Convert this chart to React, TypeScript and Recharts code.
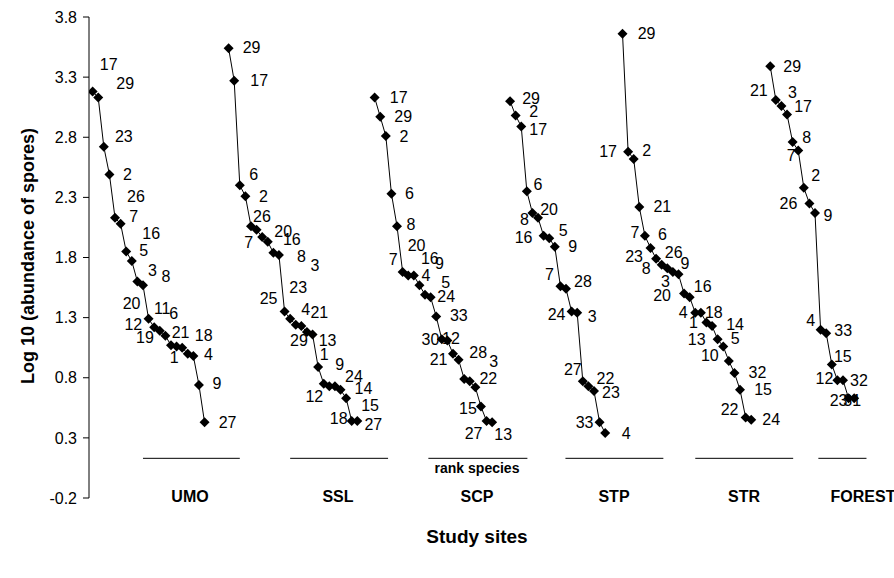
import React from "react";
import { LineChart, Line, XAxis, YAxis, ReferenceLine } from "recharts";

const FONT = '"Liberation Sans", Arial, Helvetica, sans-serif';

// species rank order and log10 abundance per study site
const umoSpecies = ["17", "29", "23", "2", "26", "7", "16", "5", "3", "8", "20", "11", "6", "12", "19", "21", "1", "18", "4", "9", "27"];
const umoLog = [3.18, 3.13, 2.72, 2.49, 2.13, 2.08, 1.85, 1.77, 1.6, 1.57, 1.29, 1.22, 1.19, 1.15, 1.07, 1.06, 1.05, 1.0, 0.98, 0.74, 0.43];

const sslSpecies = ["29", "17", "6", "2", "26", "7", "20", "16", "8", "3", "25", "23", "4", "21", "29", "13", "1", "9", "12", "24", "14", "15", "18", "27"];
const sslLog = [3.54, 3.27, 2.4, 2.31, 2.06, 2.03, 1.97, 1.93, 1.84, 1.82, 1.35, 1.29, 1.24, 1.23, 1.18, 1.16, 0.89, 0.75, 0.73, 0.73, 0.7, 0.63, 0.44, 0.44];

const scpSpecies = ["17", "29", "2", "6", "8", "20", "7", "16", "9", "4", "5", "24", "33", "30", "12", "21", "28", "3", "22", "15", "27", "13"];
const scpLog = [3.13, 2.97, 2.81, 2.33, 2.06, 1.68, 1.65, 1.65, 1.57, 1.49, 1.47, 1.31, 1.12, 1.11, 1.0, 0.95, 0.79, 0.77, 0.72, 0.56, 0.44, 0.43];

const stpSpecies = ["29", "2", "17", "6", "8", "20", "16", "5", "9", "7", "28", "24", "3", "27", "22", "23", "33", "4"];
const stpLog = [3.1, 2.98, 2.89, 2.35, 2.17, 2.13, 1.98, 1.96, 1.89, 1.56, 1.54, 1.35, 1.34, 0.77, 0.73, 0.69, 0.43, 0.34];

const strSpecies = ["29", "17", "2", "21", "7", "6", "23", "26", "8", "9", "3", "20", "16", "4", "18", "1", "14", "13", "5", "10", "32", "15", "22", "24"];
const strLog = [3.66, 2.68, 2.62, 2.22, 1.98, 1.88, 1.79, 1.74, 1.71, 1.68, 1.66, 1.5, 1.47, 1.34, 1.34, 1.26, 1.23, 1.12, 1.06, 0.94, 0.84, 0.7, 0.47, 0.45];

const forestSpecies = ["29", "21", "3", "17", "8", "7", "2", "26", "9", "4", "33", "15", "12", "32", "23", "31"];
const forestLog = [3.39, 3.11, 3.06, 2.99, 2.76, 2.69, 2.38, 2.25, 2.17, 1.2, 1.17, 0.91, 0.78, 0.78, 0.63, 0.63];

const siteNames = ["UMO", "SSL", "SCP", "STP", "STR", "FOREST"];
const yTicks = [-0.2, 0.3, 0.8, 1.3, 1.8, 2.3, 2.8, 3.3, 3.8];

// layout: first rank slot of each site on the shared x axis
const siteStart = [0, 24.3, 50.4, 74.6, 94.7, 121.1];

// layout: label offsets (dx, dy in px) from each marker, as placed in the original
const umoLabelPos = [[16, -27], [27, -14], [20, -10], [18, 0], [21, -21], [13, -7], [25, -18], [12, -11], [15, -11], [23, -9], [-17, -15], [8, -19], [14, -17], [-32, -11], [-26, -8], [4, -14], [-8, 10], [16, -18], [15, -2], [18, -1], [23, 0]];
const sslLabelPos = [[23, -1], [25, 0], [14, -11], [18, 0], [11, -10], [-8, 13], [21, -6], [24, -2], [28, 4], [36, 10], [-16, -13], [8, -31], [10, -15], [18, -14], [-8, 8], [15, 6], [6, -12], [16, -19], [-15, 10], [19, -10], [23, -1], [24, 7], [-13, -3], [16, 3]];
const scpLabelPos = [[24, 0], [23, 0], [18, 0], [18, 0], [14, -2], [14, -26], [-15, -16], [16, -17], [20, -22], [1, -19], [15, -15], [10, -20], [17, -24], [-17, -1], [-2, -15], [-20, 0], [14, -26], [24, -20], [13, -9], [-13, 2], [-13, 12], [11, 12]];
const stpLabelPos = [[21, -3], [18, -4], [17, 3], [11, -7], [-8, 6], [11, -8], [-20, 2], [14, -8], [18, 0], [-11, -12], [17, -7], [-15, 3], [15, 4], [-10, -12], [17, -8], [17, 2], [-15, 0], [21, 0]];
const strLabelPos = [[24, 0], [-20, 0], [13, -8], [23, 0], [-10, -3], [12, -13], [-22, -2], [12, -12], [-21, 0], [12, -8], [-13, 7], [-22, 2], [13, -11], [-12, 0], [13, 0], [-13, 0], [23, -2], [-21, 0], [12, -8], [-19, -5], [23, 0], [23, 0], [-16, -8], [20, 0]];
const forestLabelPos = [[22, 0], [-17, -9], [11, -13], [16, -8], [14, -5], [-7, 5], [12, -12], [-21, 0], [13, 2], [-10, -9], [17, -3], [11, -8], [-13, -2], [16, 0], [-10, 2], [-2, 2]];

// layout: short baseline under each site and its name position (px)
const baseSegments = [[9, 26.3], [35.3, 52.8], [60, 77.7], [84.5, 102], [107.7, 125.2], [129.7, 138.3]];
const siteLabelX = [190, 338, 477, 614, 744, 863];

const speciesBySite = [umoSpecies, sslSpecies, scpSpecies, stpSpecies, strSpecies, forestSpecies];
const logBySite = [umoLog, sslLog, scpLog, stpLog, strLog, forestLog];
const posBySite = [umoLabelPos, sslLabelPos, scpLabelPos, stpLabelPos, strLabelPos, forestLabelPos];

const series = siteNames.map((name, s) => ({
  name,
  rows: speciesBySite[s].map((sp, i) => ({
    x: siteStart[s] + i,
    y: logBySite[s][i],
    species: sp,
    dx: posBySite[s][i][0],
    dy: posBySite[s][i][1],
  })),
}));

const renderPoint = (props: any) => {
  const { cx, cy, payload, index } = props;
  const key = `${payload?.x}-${index}`;
  if (cx == null || cy == null) return <g key={key} />;
  return (
    <g key={key}>
      <polygon
        points={`${cx},${cy - 5} ${cx + 5},${cy} ${cx},${cy + 5} ${cx - 5},${cy}`}
        fill="#000"
      />
      <text
        x={cx + payload.dx}
        y={cy + payload.dy}
        textAnchor="middle"
        dominantBaseline="central"
        fontSize={16}
        fontFamily={FONT}
        fill="#000"
      >
        {payload.species}
      </text>
    </g>
  );
};

const centered = (x: number, y: number): React.CSSProperties => ({
  position: "absolute",
  left: x,
  top: y,
  transform: "translate(-50%, -50%)",
  whiteSpace: "nowrap",
  fontFamily: FONT,
  fontWeight: "bold",
  color: "#000",
});

export default function App() {
  return (
    <div style={{ position: "absolute", left: 0, top: 0, width: 894, height: 578, background: "#fff" }}>
      <LineChart width={894} height={578} margin={{ top: 17, right: 18, bottom: 80, left: 0 }}>
        <XAxis type="number" dataKey="x" domain={[-0.65, 140]} hide allowDataOverflow />
        <YAxis
          type="number"
          domain={[-0.2, 3.8]}
          ticks={yTicks}
          interval={0}
          width={89}
          tickSize={6}
          tickMargin={6}
          stroke="#000"
          tick={{ fill: "#000", fontSize: 16, fontFamily: FONT }}
          tickFormatter={(v: number) => v.toFixed(1)}
          allowDataOverflow
        />
        {baseSegments.map((seg, i) => (
          <ReferenceLine
            key={`base-${i}`}
            segment={[
              { x: seg[0], y: 0.13 },
              { x: seg[1], y: 0.13 },
            ]}
            stroke="#000"
            strokeWidth={1}
          />
        ))}
        {series.map((s) => (
          <Line
            key={s.name}
            data={s.rows}
            dataKey="y"
            name={s.name}
            stroke="#000"
            strokeWidth={1}
            dot={renderPoint}
            activeDot={false}
            isAnimationActive={false}
          />
        ))}
      </LineChart>
      <div style={{ ...centered(28, 256), fontSize: 18, transform: "translate(-50%, -50%) rotate(-90deg)" }}>
        Log 10 (abundance of spores)
      </div>
      <div style={{ ...centered(477, 468), fontSize: 14 }}>rank species</div>
      {siteNames.map((n, i) => (
        <div key={n} style={{ ...centered(siteLabelX[i], 497), fontSize: 16 }}>
          {n}
        </div>
      ))}
      <div style={{ ...centered(477, 537), fontSize: 19 }}>Study sites</div>
    </div>
  );
}
